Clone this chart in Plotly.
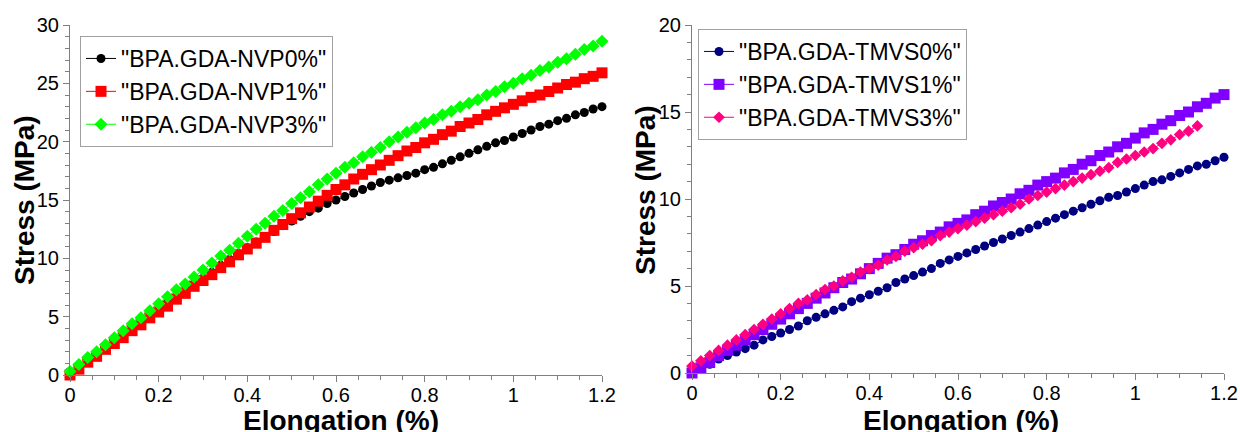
import plotly.graph_objects as go

# ---------------- data ----------------
elong = [0.00, 0.02, 0.04, 0.06, 0.08, 0.10, 0.12, 0.14, 0.16, 0.18,
         0.20, 0.22, 0.24, 0.26, 0.28, 0.30, 0.32, 0.34, 0.36, 0.38,
         0.40, 0.42, 0.44, 0.46, 0.48, 0.50, 0.52, 0.54, 0.56, 0.58,
         0.60, 0.62, 0.64, 0.66, 0.68, 0.70, 0.72, 0.74, 0.76, 0.78,
         0.80, 0.82, 0.84, 0.86, 0.88, 0.90, 0.92, 0.94, 0.96, 0.98,
         1.00, 1.02, 1.04, 1.06, 1.08, 1.10, 1.12, 1.14, 1.16, 1.18, 1.20]

nvp0 = [0.3, 0.8, 1.4, 1.9, 2.5, 3.0, 3.5, 4.1, 4.6, 5.2,
        5.7, 6.2, 6.7, 7.3, 7.8, 8.3, 8.8, 9.4, 9.9, 10.4,
        10.9, 11.4, 11.8, 12.3, 12.8, 13.2, 13.6, 14.0, 14.3, 14.7,
        15.0, 15.3, 15.6, 15.9, 16.2, 16.5, 16.7, 16.9, 17.1, 17.3,
        17.6, 17.8, 18.1, 18.4, 18.7, 19.0, 19.3, 19.6, 19.9, 20.1,
        20.4, 20.7, 21.0, 21.3, 21.5, 21.8, 22.0, 22.3, 22.5, 22.8, 23.0]

nvp1 = [0.0, 0.5, 1.1, 1.6, 2.2, 2.7, 3.2, 3.8, 4.3, 4.9,
        5.4, 5.9, 6.5, 7.0, 7.6, 8.1, 8.6, 9.2, 9.7, 10.3,
        10.8, 11.3, 11.8, 12.4, 12.9, 13.4, 13.9, 14.4, 14.9, 15.4,
        15.9, 16.3, 16.8, 17.2, 17.6, 18.0, 18.4, 18.8, 19.2, 19.5,
        19.9, 20.2, 20.6, 20.9, 21.3, 21.6, 21.9, 22.3, 22.6, 22.9,
        23.2, 23.5, 23.8, 24.0, 24.3, 24.6, 24.9, 25.1, 25.4, 25.6, 25.9]

nvp3 = [0.3, 0.9, 1.5, 2.0, 2.6, 3.2, 3.8, 4.4, 4.9, 5.5,
        6.1, 6.7, 7.3, 7.8, 8.4, 9.0, 9.6, 10.2, 10.7, 11.3,
        11.9, 12.5, 13.0, 13.6, 14.1, 14.7, 15.2, 15.7, 16.3, 16.8,
        17.3, 17.8, 18.2, 18.7, 19.1, 19.5, 20.0, 20.4, 20.8, 21.2,
        21.6, 21.9, 22.3, 22.6, 23.0, 23.3, 23.6, 24.0, 24.3, 24.7,
        25.0, 25.4, 25.7, 26.1, 26.4, 26.8, 27.1, 27.5, 27.9, 28.2, 28.6]

tmvs0 = [0.1, 0.3, 0.5, 0.8, 1.0, 1.2, 1.4, 1.6, 1.9, 2.1,
         2.3, 2.5, 2.7, 3.0, 3.2, 3.4, 3.6, 3.8, 4.1, 4.3,
         4.5, 4.7, 4.9, 5.2, 5.4, 5.6, 5.8, 6.0, 6.3, 6.5,
         6.7, 6.9, 7.1, 7.3, 7.5, 7.7, 7.9, 8.1, 8.3, 8.5,
         8.7, 8.9, 9.1, 9.3, 9.5, 9.7, 9.9, 10.1, 10.2, 10.4,
         10.6, 10.8, 11.0, 11.1, 11.3, 11.5, 11.7, 11.9, 12.0, 12.2, 12.4]

tmvs1 = [0.0, 0.3, 0.6, 1.0, 1.3, 1.6, 1.9, 2.2, 2.5, 2.8,
         3.1, 3.4, 3.7, 4.0, 4.3, 4.6, 4.9, 5.2, 5.4, 5.7,
         6.0, 6.3, 6.6, 6.8, 7.1, 7.4, 7.6, 7.9, 8.1, 8.4,
         8.6, 8.8, 9.1, 9.3, 9.6, 9.8, 10.0, 10.3, 10.5, 10.8,
         11.0, 11.2, 11.5, 11.7, 12.0, 12.2, 12.5, 12.7, 13.0, 13.2,
         13.5, 13.8, 14.0, 14.3, 14.5, 14.8, 15.0, 15.3, 15.5, 15.8, 16.0]

tmvs3 = [0.4, 0.7, 1.0, 1.3, 1.6, 1.9, 2.2, 2.5, 2.8, 3.1,
         3.4, 3.7, 4.0, 4.2, 4.5, 4.8, 5.0, 5.3, 5.5, 5.8,
         6.0, 6.2, 6.5, 6.7, 7.0, 7.2, 7.4, 7.6, 7.9, 8.1,
         8.3, 8.5, 8.7, 8.9, 9.1, 9.3, 9.5, 9.7, 10.0, 10.2,
         10.4, 10.6, 10.8, 11.0, 11.2, 11.4, 11.6, 11.8, 12.1, 12.3,
         12.5, 12.7, 12.9, 13.2, 13.4, 13.7, 13.9, 14.2]

left_names = ['"BPA.GDA-NVP0%"', '"BPA.GDA-NVP1%"', '"BPA.GDA-NVP3%"']
right_names = ['"BPA.GDA-TMVS0%"', '"BPA.GDA-TMVS1%"', '"BPA.GDA-TMVS3%"']
x_title = "Elongation (%)"
y_title = "Stress (MPa)"

# ---------------- figure ----------------
W, H = 1240, 432
FONT = "Liberation Sans, Arial, sans-serif"

def px_x(p):
    return p / W

def px_y(p):
    return 1 - p / H

fig = go.Figure()

left_series = [
    (nvp0, left_names[0], "#000000", "circle", 9),
    (nvp1, left_names[1], "#FF0000", "square", 11),
    (nvp3, left_names[2], "#00FF00", "diamond", 10),
]
for ys, name, col, sym, sz in left_series:
    fig.add_trace(go.Scatter(
        x=elong[:len(ys)], y=ys, name=name, mode="lines+markers",
        line=dict(color=col, width=1),
        marker=dict(color=col, symbol=sym, size=sz, line=dict(width=0)),
        xaxis="x", yaxis="y", legend="legend", cliponaxis=False))

right_series = [
    (tmvs0, right_names[0], "#000080", "circle", 9),
    (tmvs1, right_names[1], "#8000FF", "square", 11),
    (tmvs3, right_names[2], "#FF0080", "diamond", 9),
]
for ys, name, col, sym, sz in right_series:
    fig.add_trace(go.Scatter(
        x=elong[:len(ys)], y=ys, name=name, mode="lines+markers",
        line=dict(color=col, width=1),
        marker=dict(color=col, symbol=sym, size=sz, line=dict(width=0)),
        xaxis="x2", yaxis="y2", legend="legend2", cliponaxis=False))

axis_common = dict(
    showgrid=False, zeroline=False, showline=True, linecolor="#7f7f7f",
    linewidth=1, ticks="outside", ticklen=6, tickcolor="#7f7f7f",
    automargin=False,
    tickfont=dict(family=FONT, size=20, color="#000000"),
)

fig.update_layout(
    width=W, height=H,
    margin=dict(l=0, r=0, t=0, b=0, autoexpand=False),
    paper_bgcolor="white", plot_bgcolor="white",
    showlegend=True,
    xaxis=dict(domain=[px_x(70), px_x(602)], range=[0, 1.2], dtick=0.2,
               anchor="y", ticklabelstandoff=-4,
               minor=dict(dtick=0.05, ticks="outside", ticklen=4,
                          tickcolor="#7f7f7f"), **axis_common),
    yaxis=dict(domain=[px_y(375), px_y(25)], range=[0, 30], dtick=5,
               anchor="x", minor=dict(dtick=1, ticks="outside", ticklen=4,
                                      tickcolor="#7f7f7f"), **axis_common),
    xaxis2=dict(domain=[px_x(692), px_x(1224)], range=[0, 1.2], dtick=0.2,
                anchor="y2", ticklabelstandoff=-4,
                minor=dict(dtick=0.05, ticks="outside", ticklen=4,
                           tickcolor="#7f7f7f"), **axis_common),
    yaxis2=dict(domain=[px_y(373), px_y(25)], range=[0, 20], dtick=5,
                anchor="x2", minor=dict(dtick=1, ticks="outside", ticklen=4,
                                        tickcolor="#7f7f7f"), **axis_common),
    legend=dict(x=px_x(80), y=px_y(36), xanchor="left", yanchor="top",
                bgcolor="white", bordercolor="#a0a0a0", borderwidth=1,
                font=dict(family=FONT, size=23, color="#000000")),
    legend2=dict(x=px_x(698), y=px_y(29), xanchor="left", yanchor="top",
                 bgcolor="white", bordercolor="#a0a0a0", borderwidth=1,
                 font=dict(family=FONT, size=23, color="#000000")),
)

title_font = dict(family=FONT, size=28, color="#000000")
annots = [
    dict(text="<b>%s</b>" % x_title, x=px_x(341), y=px_y(420), xanchor="center",
         yanchor="middle", showarrow=False, font=title_font),
    dict(text="<b>%s</b>" % x_title, x=px_x(961), y=px_y(420), xanchor="center",
         yanchor="middle", showarrow=False, font=title_font),
    dict(text="<b>%s</b>" % y_title, x=px_x(24), y=px_y(200), xanchor="center",
         yanchor="middle", textangle=-90, showarrow=False, font=title_font),
    dict(text="<b>%s</b>" % y_title, x=px_x(645), y=px_y(190), xanchor="center",
         yanchor="middle", textangle=-90, showarrow=False, font=title_font),
]
for a in annots:
    a.update(xref="paper", yref="paper")
fig.update_layout(annotations=annots)

fig.write_html("out.html")
